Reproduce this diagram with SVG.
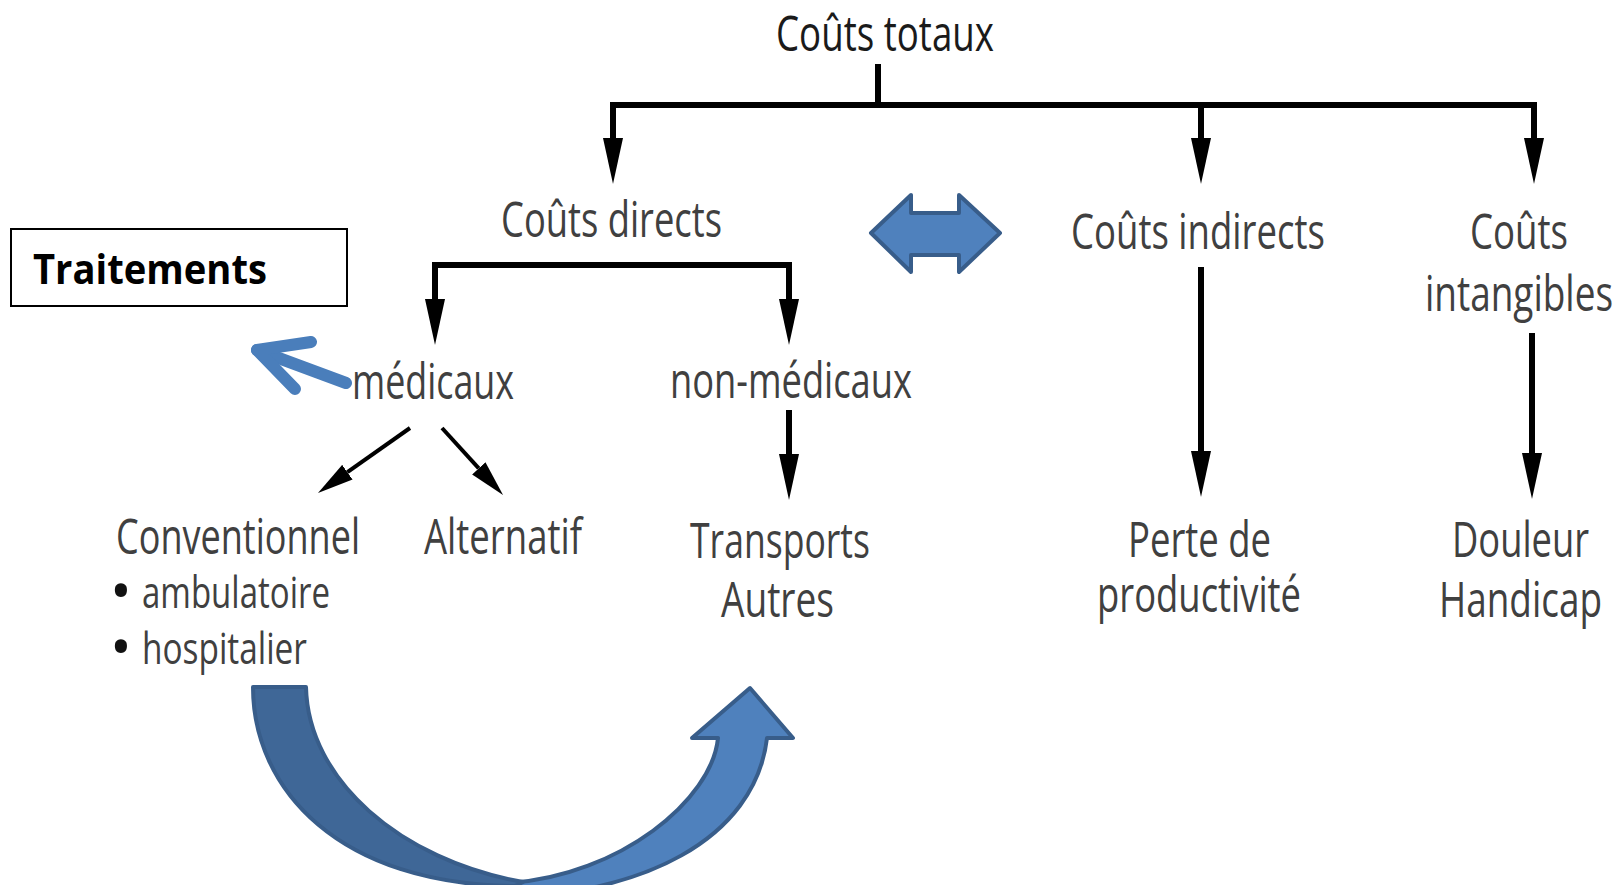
<svg xmlns="http://www.w3.org/2000/svg" width="1623" height="885" viewBox="0 0 1623 885">
  <style>
    .lbl { font-family: "Open Sans", "Liberation Sans", sans-serif; font-size: 50px; fill: #404040; }
    .top { fill: #1a1a1a; }
    .sub { font-size: 44px; }
    .conn { fill: none; stroke: #000; stroke-width: 6; }
    .thin { stroke-width: 4; }
    .blue { fill: #4F81BD; stroke: #385D8A; stroke-width: 4; stroke-linejoin: round; }
    .dot { fill: #111; }
  </style>
  <defs>
    <marker id="head" markerUnits="userSpaceOnUse" viewBox="0 0 46 20" refX="0" refY="10" markerWidth="46" markerHeight="20" orient="auto-start-reverse">
      <path d="M0,0 L46,10 L0,20 Z" fill="#000"/>
    </marker>
    <marker id="headSmall" markerUnits="userSpaceOnUse" viewBox="0 0 36 18" refX="0" refY="9" markerWidth="36" markerHeight="18" orient="auto">
      <path d="M0,0 L36,9 L0,18 Z" fill="#000"/>
    </marker>
  </defs>

  <rect width="1623" height="885" fill="#fff"/>

  <!-- connectors -->
  <g id="connectors">
    <path class="conn" d="M878,64 V105"/>
    <path class="conn" d="M613,138 V105 H1534 V138" marker-start="url(#head)" marker-end="url(#head)"/>
    <path class="conn" d="M1201,105 V138" marker-end="url(#head)"/>
    <path class="conn" d="M435,299 V265 H789 V299" marker-start="url(#head)" marker-end="url(#head)"/>
    <path class="conn" d="M789,410 V454" marker-end="url(#head)"/>
    <path class="conn" d="M1201,267 V451" marker-end="url(#head)"/>
    <path class="conn" d="M1532,333 V453" marker-end="url(#head)"/>
    <path class="conn thin" d="M410,428 L347.4,472.2" marker-end="url(#headSmall)"/>
    <path class="conn thin" d="M442,428 L478.8,468.4" marker-end="url(#headSmall)"/>
    <!-- blue pointer from "médicaux" to the Traitements box -->
    <g fill="none" stroke="#4A7EBB" stroke-width="12" stroke-linecap="round" stroke-linejoin="round">
      <path d="M346,383 L257,350"/>
      <path d="M311,342 L257,350 L295,389"/>
    </g>
    <!-- double arrow between direct and indirect costs -->
    <path class="blue" d="M871,233 L911,195 L911,213 L959,213 L959,195 L1000,233 L959,272 L959,255 L911,255 L911,272 Z"/>
    <!-- curved arrow from conventional care to non-medical costs -->
    <path class="blue" d="M510,883 C620,875 712,800 718,738 L692,738 L750,688 L793,738 L767,738 C755,840 640,896 500,897 Z"/>
    <path class="blue" style="fill:#3F6797" d="M253,687 L306,687 C308,780 400,860 523,882 L515,886 C340,885 253,790 253,687 Z"/>
  </g>

  <g id="n-total"><text class="lbl top" x="776" y="51" textLength="218" lengthAdjust="spacingAndGlyphs">Coûts totaux</text></g>
  <g id="n-directs"><text class="lbl" x="501" y="237" textLength="221" lengthAdjust="spacingAndGlyphs">Coûts directs</text></g>
  <g id="n-indirects"><text class="lbl" x="1071" y="249" textLength="254" lengthAdjust="spacingAndGlyphs">Coûts indirects</text></g>
  <g id="n-intangibles">
    <text class="lbl" x="1470" y="249" textLength="98" lengthAdjust="spacingAndGlyphs">Coûts</text>
    <text class="lbl" x="1425" y="311" textLength="188" lengthAdjust="spacingAndGlyphs">intangibles</text>
  </g>
  <g id="n-traitements">
    <rect x="11" y="229" width="336" height="77" fill="#fff" stroke="#000" stroke-width="2"/>
    <text x="33" y="284" font-family="'Open Sans', 'Liberation Sans', sans-serif" font-weight="700" font-size="42" fill="#000" textLength="234" lengthAdjust="spacingAndGlyphs">Traitements</text>
  </g>
  <g id="n-medicaux"><text class="lbl" x="352" y="399" textLength="162" lengthAdjust="spacingAndGlyphs">médicaux</text></g>
  <g id="n-non-medicaux"><text class="lbl" x="670" y="398" textLength="242" lengthAdjust="spacingAndGlyphs">non-médicaux</text></g>
  <g id="n-conventionnel">
    <text class="lbl" x="116" y="554" textLength="244" lengthAdjust="spacingAndGlyphs">Conventionnel</text>
    <text class="lbl dot" x="110" y="612" font-size="58" style="font-size:58px">•</text>
    <text class="lbl sub" x="142" y="608" textLength="188" lengthAdjust="spacingAndGlyphs">ambulatoire</text>
    <text class="lbl dot" x="110" y="668" style="font-size:58px">•</text>
    <text class="lbl sub" x="142" y="664" textLength="165" lengthAdjust="spacingAndGlyphs">hospitalier</text>
  </g>
  <g id="n-alternatif"><text class="lbl" x="424" y="554" textLength="158" lengthAdjust="spacingAndGlyphs">Alternatif</text></g>
  <g id="n-transports">
    <text class="lbl" x="690" y="558" textLength="180" lengthAdjust="spacingAndGlyphs">Transports</text>
    <text class="lbl" x="721" y="617" textLength="113" lengthAdjust="spacingAndGlyphs">Autres</text>
  </g>
  <g id="n-productivite">
    <text class="lbl" x="1128" y="557" textLength="143" lengthAdjust="spacingAndGlyphs">Perte de</text>
    <text class="lbl" x="1097" y="612" textLength="204" lengthAdjust="spacingAndGlyphs">productivité</text>
  </g>
  <g id="n-douleur">
    <text class="lbl" x="1452" y="557" textLength="137" lengthAdjust="spacingAndGlyphs">Douleur</text>
    <text class="lbl" x="1439" y="617" textLength="163" lengthAdjust="spacingAndGlyphs">Handicap</text>
  </g>
</svg>
